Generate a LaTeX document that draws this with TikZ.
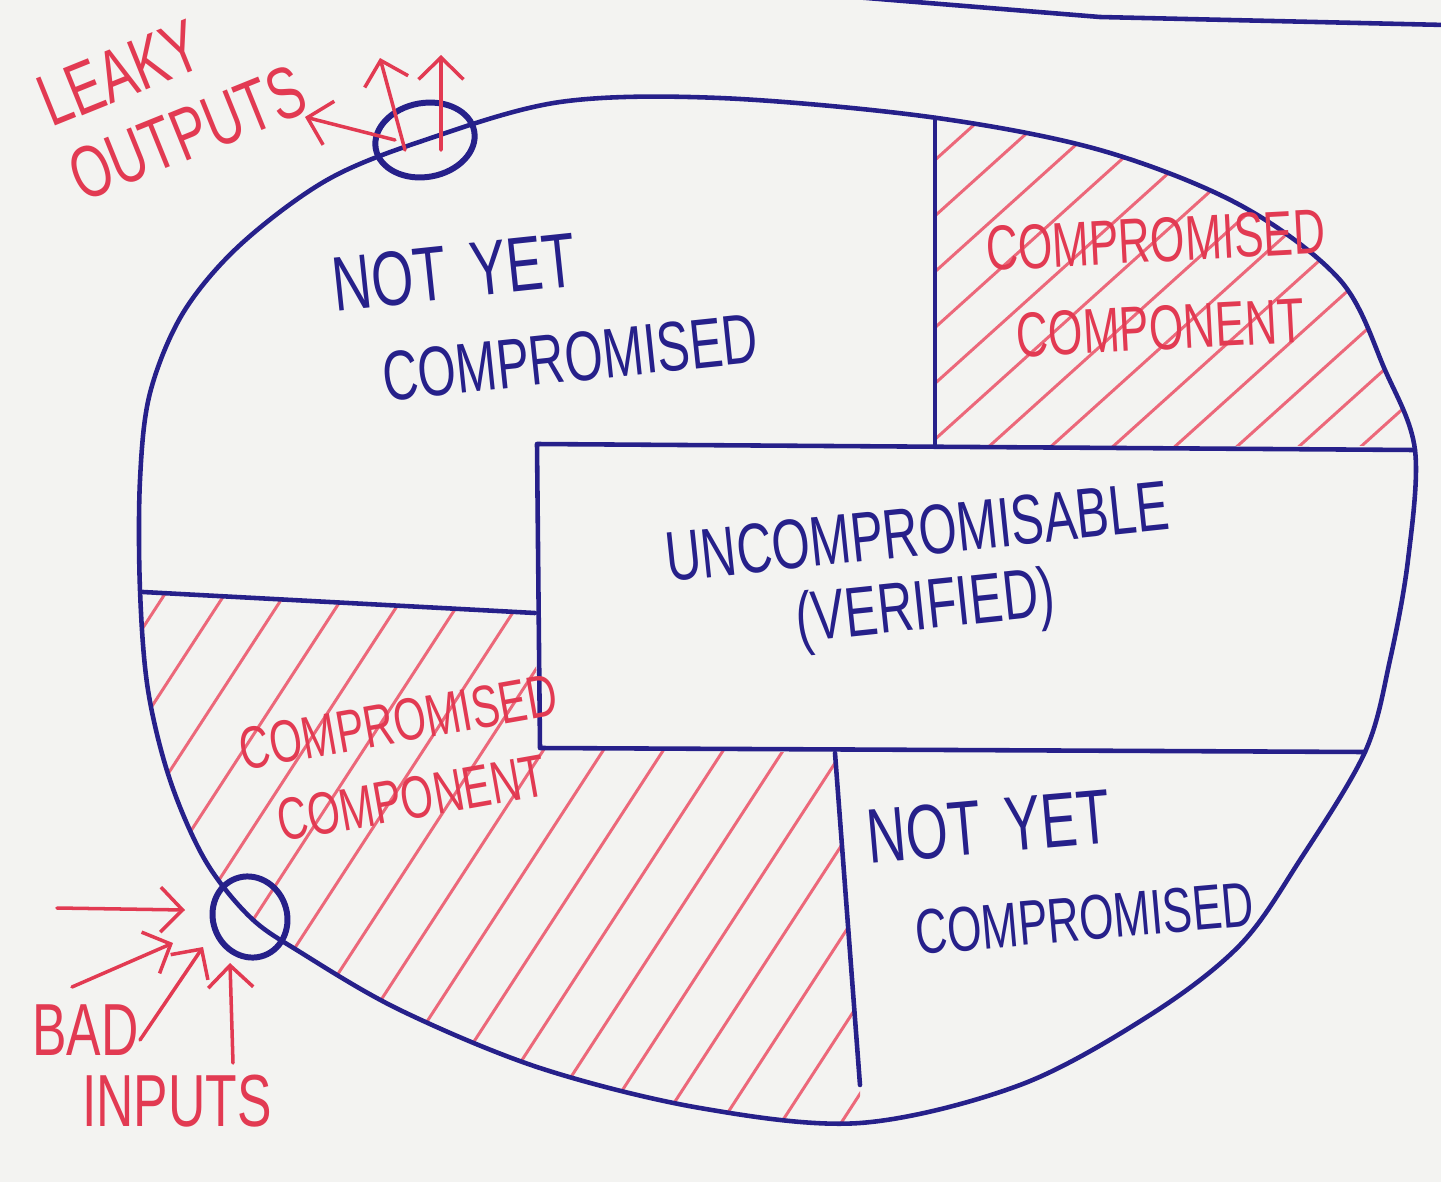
\documentclass[tikz,border=0pt]{standalone}
\usepackage{fontspec}
\setmainfont{Liberation Sans}
\newfontfamily\handfont[FakeStretch=0.7]{Liberation Sans}
\usepackage{tikz}
\usetikzlibrary{arrows.meta,shapes.geometric}

\definecolor{paper}{RGB}{243,243,241}
\definecolor{ink}{RGB}{38,32,138}
\definecolor{redink}{RGB}{226,58,82}
\definecolor{hatchred}{RGB}{236,104,122}

\begin{document}
\begin{tikzpicture}[
    x=0.1mm, y=-0.1mm,
    pen/.style={draw=ink, line width=1.3pt, line cap=round, line join=round},
    hatchline/.style={draw=hatchred, line width=0.85pt, line cap=round},
    arrow/.style={draw=redink, line width=1pt, line cap=round, -{Straight Barb[length=2.2mm, width=4.5mm]}},
    port/.style={draw=ink, line width=1.7pt, ellipse, inner sep=0pt},
    bluelabel/.style={text=ink, font=\handfont\fontsize{20}{27}\selectfont, align=left, inner sep=0pt},
    redlabel/.style={text=redink, font=\handfont\fontsize{20}{26}\selectfont, align=center, inner sep=0pt}
]
\fill[paper] (0,0) rectangle (1441,1182);
\useasboundingbox (0,0) rectangle (1441,1182);

% Outline of the system
\path[save path=\blobpath] plot[smooth cycle, tension=0.55] coordinates {
    (425,140) (560,102) (720,98) (930,117) (1100,150) (1240,205) (1340,280)
    (1385,370) (1415,450) (1408,560) (1390,660) (1365,752) (1300,860)
    (1240,945) (1150,1015) (1020,1085) (860,1123) (700,1108) (540,1068)
    (400,1010) (300,952) (250,917) (205,860) (170,780) (148,690) (140,590)
    (140,480) (150,393) (183,313) (240,245) (327,180)};

% Hatched compromised parts
\begin{scope}
  \clip[use path=\blobpath];
  \clip (935,0) rectangle (1441,445);
  \foreach \i in {540,602,...,1420}
    \draw[hatchline] (\i,460) -- ++(444,-400);
\end{scope}
\begin{scope}
  \clip[use path=\blobpath];
  \clip (0,592) -- (143,592) -- (535,613) -- (538,748) -- (835,753)
    -- (860,1085) -- (860,1182) -- (0,1182) -- cycle;
  \foreach \i in {-250,-190,...,870}
    \draw[hatchline] (\i,1140) -- ++(390,-600);
\end{scope}

\draw[pen, use path=\blobpath];

% Partitions
\draw[pen] (935,118) -- (935,445);
\draw[pen] (1415,450) -- (537,444) -- (540,748) -- (1365,752);
\draw[pen] (143,592) -- (535,613);
\draw[pen] (835,753) -- (860,1085);
\draw[pen] (830,-5) -- (1100,17) -- (1446,25);

% Ports
\node[port, minimum width=10mm, minimum height=7.4mm, rotate=10] (leak) at (425,140) {};
\node[port, minimum width=7.4mm, minimum height=8.2mm, rotate=20] (entry) at (250,917) {};

% Labels
\node[bluelabel, rotate=6] (nycTop) at (545,310)
  {{\fontsize{22}{27}\selectfont NOT\hspace{2.5mm}YET}\\\hspace*{4mm}COMPROMISED};
\node[bluelabel, rotate=5] (nycBot) at (1060,868)
  {{\fontsize{22}{27}\selectfont NOT\hspace{2.5mm}YET}\\\hspace*{4mm}{\fontsize{18}{27}\selectfont COMPROMISED}};
\node[bluelabel, align=center, rotate=6, font=\handfont\fontsize{20}{21}\selectfont] (verified) at (922,575) {UNCOMPROMISABLE\\(VERIFIED)};
\node[redlabel, rotate=3, font=\handfont\fontsize{18}{25}\selectfont] (compTop) at (1158,284) {COMPROMISED\\COMPONENT};
\node[redlabel, rotate=10, font=\handfont\fontsize{17}{22}\selectfont] (compBot) at (405,760) {COMPROMISED\\COMPONENT};
\node[redlabel, align=left, rotate=22, font=\handfont\fontsize{21}{23}\selectfont] (leaky) at (172,96) {LEAKY\\OUTPUTS};
\node[redlabel, align=left, font=\handfont\fontsize{21}{20}\selectfont] (bad) at (152,1066) {BAD\\\hspace*{5mm}INPUTS};

% Leaky outputs
\coordinate (outA) at (305,117);
\coordinate (outB) at (380,58);
\coordinate (outC) at (441,55);
\draw[arrow] ([xshift=-3mm]leak.center) -- (outA);
\draw[arrow] ([xshift=-2mm,yshift=-1mm]leak.center) -- (outB);
\draw[arrow] ([xshift=1.6mm,yshift=-1mm]leak.center) -- (outC);

% Bad inputs
\coordinate (inA) at (57,908);
\coordinate (inB) at (72,987);
\coordinate (inC) at (140,1040);
\coordinate (inD) at (233,1063);
\draw[arrow] (inA) -- ([xshift=-6.5mm,yshift=0.7mm]entry.center);
\draw[arrow] (inB) -- ([xshift=-7.7mm,yshift=-2.6mm]entry.center);
\draw[arrow] (inC) -- ([xshift=-4.7mm,yshift=-3mm]entry.center);
\draw[arrow] (inD) -- ([xshift=-2mm,yshift=-4.6mm]entry.center);

\end{tikzpicture}
\end{document}
